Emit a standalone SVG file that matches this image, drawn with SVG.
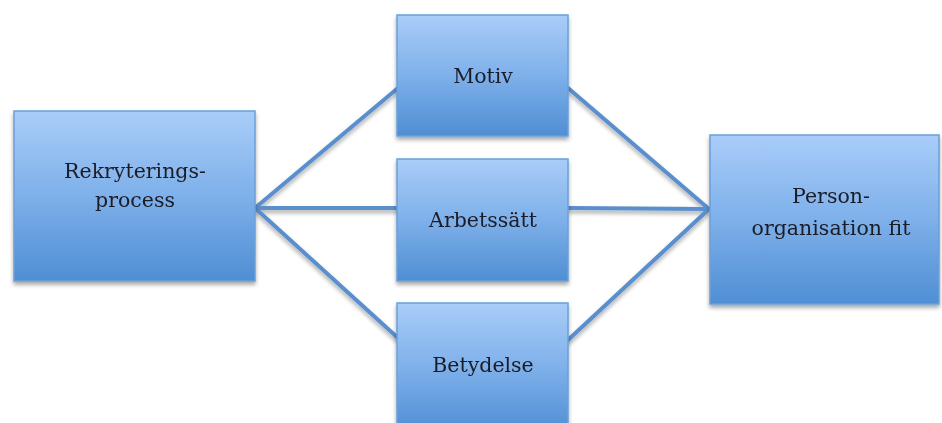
<svg xmlns="http://www.w3.org/2000/svg" width="942" height="423" viewBox="0 0 942 423">
  <defs>
    <linearGradient id="boxGrad" x1="0" y1="0" x2="0" y2="1">
      <stop offset="0" stop-color="#a9cdf9"/>
      <stop offset="0.5" stop-color="#7eb0ea"/>
      <stop offset="1" stop-color="#4f8ed4"/>
    </linearGradient>
    <filter id="shadow" x="-10%" y="-10%" width="120%" height="130%">
      <feGaussianBlur in="SourceAlpha" stdDeviation="2"/>
      <feOffset dx="0" dy="3" result="b"/>
      <feComponentTransfer><feFuncA type="linear" slope="0.35"/></feComponentTransfer>
      <feMerge><feMergeNode/><feMergeNode in="SourceGraphic"/></feMerge>
    </filter>
  </defs>
  <style>
    .box { fill: url(#boxGrad); stroke: #6b9fd8; stroke-width: 1.5; }
    .lbl { font-family: "DejaVu Serif", "Liberation Serif", serif; font-size: 20.5px; fill: #1c1c28; text-anchor: middle; }
    .conn { stroke: #5a8fcd; stroke-width: 4; fill: none; stroke-linecap: round; }
  </style>
  <rect width="942" height="423" fill="#ffffff"/>
  <g id="connectors" filter="url(#shadow)">
    <line class="conn" x1="255" y1="208" x2="398" y2="88"/>
    <line class="conn" x1="255" y1="208" x2="398" y2="208"/>
    <line class="conn" x1="255" y1="208" x2="398" y2="338"/>
    <line class="conn" x1="568" y1="88" x2="709" y2="209"/>
    <line class="conn" x1="568" y1="208" x2="709" y2="209"/>
    <line class="conn" x1="568" y1="340" x2="709" y2="209"/>
  </g>
  <g id="rekrytering" filter="url(#shadow)">
    <rect class="box" x="14" y="111" width="241" height="170"/>
    <text class="lbl" x="135" y="178">Rekryterings-</text>
    <text class="lbl" x="135" y="207">process</text>
  </g>
  <g id="motiv" filter="url(#shadow)">
    <rect class="box" x="397" y="15" width="171" height="121"/>
    <text class="lbl" x="483" y="83">Motiv</text>
  </g>
  <g id="arbetssatt" filter="url(#shadow)">
    <rect class="box" x="397" y="159" width="171" height="122"/>
    <text class="lbl" x="483" y="227">Arbetssätt</text>
  </g>
  <g id="betydelse" filter="url(#shadow)">
    <rect class="box" x="397" y="303" width="171" height="130"/>
    <text class="lbl" x="483" y="372">Betydelse</text>
  </g>
  <g id="person-org" filter="url(#shadow)">
    <rect class="box" x="710" y="135" width="229" height="169"/>
    <text class="lbl" x="831" y="203">Person-</text>
    <text class="lbl" x="831" y="235">organisation fit</text>
  </g>
</svg>
